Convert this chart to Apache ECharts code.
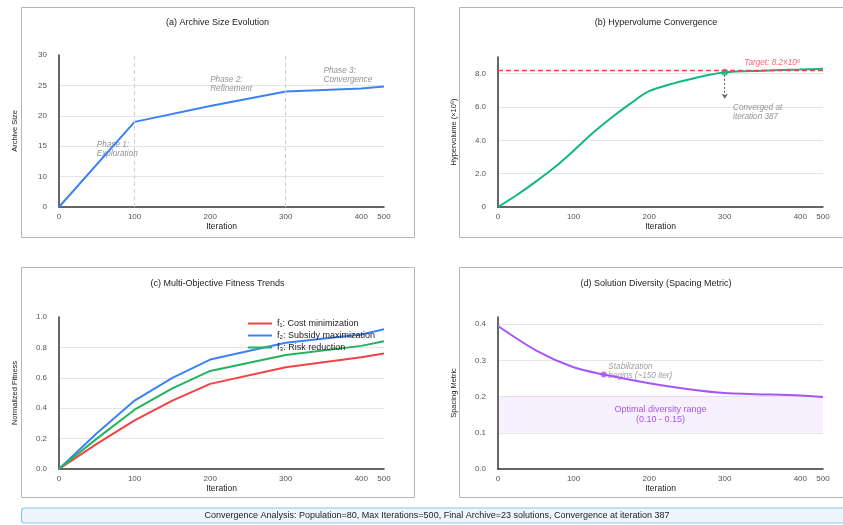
<!DOCTYPE html>
<html>
<head>
<meta charset="utf-8">
<script src="https://cdn.jsdelivr.net/npm/echarts@6/dist/echarts.min.js"></script>
<style>
  html, body { margin: 0; padding: 0; background: #fff; }
  #chart { width: 843px; height: 525px; }
</style>
</head>
<body>
<div id="chart"></div>
<script>
// iteration ticks shown on every x axis (the last step 400 -> 500 is drawn compressed)
var xTicks = [0, 100, 200, 300, 400, 500];

// (a) archive size
var archiveIters = [0, 100, 200, 300, 400, 500];
var archiveSize = [0, 19, 21.6, 24, 24.5, 24.8];
var phaseBounds = [100, 300];
var phaseNotes = [
  { x: 50, y: 14.5, text: 'Phase 1:\nExploration' },
  { x: 200, y: 25.2, text: 'Phase 2:\nRefinement' },
  { x: 350, y: 26.7, text: 'Phase 3:\nConvergence' }
];

// (b) hypervolume
var hvIters = [0, 25, 50, 75, 100, 125, 150, 175, 200, 250, 300, 350, 400, 500];
var hypervolume = [0, 0.72, 1.52, 2.38, 3.38, 4.42, 5.35, 6.2, 6.95, 7.62, 8.08, 8.18, 8.25, 8.3];
var hvTarget = 8.2;
var convPoint = [300, 8.08];
var convArrowEnd = 6.5;

// (c) fitness trends
var fitIters = [0, 50, 100, 150, 200, 300, 400, 500];
var costFit = [0, 0.165, 0.32, 0.45, 0.56, 0.67, 0.735, 0.76];
var subsidyFit = [0, 0.235, 0.45, 0.6, 0.72, 0.83, 0.885, 0.92];
var riskFit = [0, 0.2, 0.39, 0.53, 0.645, 0.75, 0.81, 0.84];

// (d) spacing metric
var spIters = [0, 50, 100, 140, 200, 250, 300, 400, 500];
var spacing = [0.395, 0.328, 0.281, 0.261, 0.237, 0.221, 0.21, 0.203, 0.199];
var stabPoint = [140, 0.261];
var optimalBand = [0.1, 0.2];

// compressed tail of the iteration axis
function xPos(it) { return it <= 400 ? it : 400 + (it - 400) * 0.3; }
function xLabel(v) { return v <= 400 ? Math.round(v) : Math.round(400 + (v - 400) / 0.3); }
// archive axis: 0..10 squeezed into one step
function yPosA(v) { return v < 10 ? 5 + v * 0.5 : v; }
function yLabelA(v) { return v < 10 ? Math.round((v - 5) * 2) : v; }

var FONT = 'Liberation Sans, Arial, sans-serif';
var grids = [
  { left: 59, right: 459, top: 55, bottom: 318 },
  { left: 498, right: 20, top: 57, bottom: 318 },
  { left: 59, right: 459, top: 317, bottom: 56 },
  { left: 498, right: 20, top: 317, bottom: 56 }
];

function xAxisFor(i) {
  return {
    type: 'value', gridIndex: i, min: 0, max: xPos(500),
    name: 'Iteration', nameLocation: 'middle', nameGap: 15,
    nameTextStyle: { fontSize: 8.5, color: '#222', fontFamily: FONT },
    axisLine: { show: true, lineStyle: { color: '#333', width: 1.5 } },
    axisTick: { show: false },
    splitLine: { show: false },
    axisLabel: {
      customValues: xTicks.map(xPos), margin: 6,
      fontSize: 8, color: '#555', fontFamily: FONT,
      formatter: function (v) { return String(xLabel(v)); }
    }
  };
}
function yAxisFor(i, name, opts) {
  var ax = {
    type: 'value', gridIndex: i,
    name: name, nameLocation: 'middle', nameGap: 40,
    nameTextStyle: { fontSize: 7.5, color: '#222', fontFamily: FONT },
    axisLine: { show: true, lineStyle: { color: '#333', width: 1.5 } },
    axisTick: { show: false },
    splitLine: { show: true, showMinLine: false, showMaxLine: false, lineStyle: { color: '#e6e6e6', width: 1 } },
    axisLabel: { fontSize: 8, color: '#555', fontFamily: FONT, margin: 12 }
  };
  for (var k in opts) {
    if (k === 'axisLabel') { for (var j in opts[k]) ax.axisLabel[j] = opts[k][j]; }
    else ax[k] = opts[k];
  }
  return ax;
}

var panels = [[21, 7], [459, 7], [21, 267], [459, 267]];
var graphics = panels.map(function (p) {
  return { type: 'rect', shape: { x: p[0] + 0.5, y: p[1] + 0.5, width: 393, height: 230 },
    style: { fill: 'transparent', stroke: '#b5b5b5', lineWidth: 1 }, z: -1 };
});
graphics.push({ type: 'rect', shape: { x: 21.5, y: 508, width: 831, height: 15, r: 3 },
  style: { fill: '#eef6fd', stroke: '#8cc8ec', lineWidth: 1.2 } });
graphics.push({ type: 'text', x: 437, y: 515.5,
  style: { text: 'Convergence Analysis: Population=80, Max Iterations=500, Final Archive=23 solutions, Convergence at iteration 387',
    fill: '#222', fontSize: 9, fontFamily: FONT, align: 'center', verticalAlign: 'middle' } });

function titleAt(text, cx, y) {
  return { text: text, left: cx, top: y, textAlign: 'center',
    textStyle: { fontSize: 9, fontWeight: 'normal', color: '#222', fontFamily: FONT } };
}

function pairs(xs, ys, fy) {
  return xs.map(function (x, i) { return [xPos(x), fy ? fy(ys[i]) : ys[i]]; });
}
function lineSeries(name, xi, xs, ys, color, smooth, fy) {
  return { name: name, type: 'line', xAxisIndex: xi, yAxisIndex: xi, data: pairs(xs, ys, fy),
    symbol: 'none', smooth: smooth,
    lineStyle: { color: color, width: 2 }, itemStyle: { color: color }, z: 3 };
}
function noteStyle(color) {
  return { show: true, position: 'right', distance: 0, fontStyle: 'italic', fontSize: 8.2,
    lineHeight: 9, color: color, fontFamily: FONT };
}

var seriesA = lineSeries('archive', 0, archiveIters, archiveSize, '#3b82f6', false, yPosA);
seriesA.markLine = { silent: true, symbol: 'none', label: { show: false },
  lineStyle: { type: [4, 3], color: '#cfcfcf', width: 1 },
  data: phaseBounds.map(function (v) { return { xAxis: xPos(v) }; }) };

var seriesB = lineSeries('hv', 1, hvIters, hypervolume, '#10b981', 0.3);
seriesB.markLine = { silent: true, symbol: 'none', label: { show: false },
  data: [
    { yAxis: hvTarget, lineStyle: { type: [5, 3], color: '#ef4444', width: 1.3 } },
    [{ coord: [xPos(convPoint[0]), convPoint[1] - 0.15], symbol: 'none' },
     { coord: [xPos(convPoint[0]), convArrowEnd], symbol: 'arrow', symbolSize: 5,
       lineStyle: { type: [2, 2], color: '#666', width: 1 } }]
  ] };

var seriesD = lineSeries('spacing', 3, spIters, spacing, '#a855f7', 0.3);
seriesD.markArea = { silent: true, itemStyle: { color: 'rgba(168,85,247,0.09)' },
  label: { show: true, position: 'inside', formatter: 'Optimal diversity range\n(0.10 - 0.15)',
    color: '#a855f7', fontSize: 9, lineHeight: 10, fontFamily: FONT },
  data: [[{ yAxis: optimalBand[0] }, { yAxis: optimalBand[1] }]] };

var option = {
  animation: false,
  textStyle: { fontFamily: FONT },
  title: [
    titleAt('(a) Archive Size Evolution', 212.5, 13),
    titleAt('(b) Hypervolume Convergence', 651, 13),
    titleAt('(c) Multi-Objective Fitness Trends', 212.5, 274),
    titleAt('(d) Solution Diversity (Spacing Metric)', 651, 274)
  ],
  graphic: { elements: graphics },
  legend: {
    data: ['f\u2081: Cost minimization', 'f\u2082: Subsidy maximization', 'f\u2083: Risk reduction'],
    orient: 'vertical', left: 243, top: 314, icon: 'rect', itemWidth: 24, itemHeight: 2, itemGap: 3,
    textStyle: { fontSize: 9, color: '#222', fontFamily: FONT }
  },
  grid: grids,
  xAxis: [xAxisFor(0), xAxisFor(1), xAxisFor(2), xAxisFor(3)],
  yAxis: [
    yAxisFor(0, 'Archive Size', { min: 5, max: 30, interval: 5,
      axisLabel: { formatter: function (v) { return String(yLabelA(v)); } } }),
    yAxisFor(1, 'Hypervolume (\u00d710\u2076)', { min: 0, max: 9, interval: 2,
      axisLabel: { showMaxLabel: false, formatter: function (v) { return v === 0 ? '0' : v.toFixed(1); } } }),
    yAxisFor(2, 'Normalized Fitness', { min: 0, max: 1, interval: 0.2,
      axisLabel: { formatter: function (v) { return v.toFixed(1); } } }),
    yAxisFor(3, 'Spacing Metric', { min: 0, max: 0.42, interval: 0.1,
      axisLabel: { showMaxLabel: false, formatter: function (v) { return v.toFixed(1); } } })
  ],
  series: [
    seriesA,
    { type: 'scatter', xAxisIndex: 0, yAxisIndex: 0, symbolSize: 0, silent: true,
      data: phaseNotes.map(function (p) { return { value: [xPos(p.x), yPosA(p.y)], label: { formatter: p.text } }; }),
      label: noteStyle('#777') },
    seriesB,
    { type: 'scatter', xAxisIndex: 1, yAxisIndex: 1, symbolSize: 7, z: 4,
      itemStyle: { color: '#10b981' }, data: [[xPos(convPoint[0]), convPoint[1]]] },
    { type: 'scatter', xAxisIndex: 1, yAxisIndex: 1, symbolSize: 0, silent: true,
      data: [
        { value: [xPos(311), 5.7], label: { formatter: 'Converged at\niteration 387', color: '#777' } },
        { value: [xPos(400), 8.66], label: { formatter: 'Target: 8.2\u00d710\u2076', position: 'left', color: '#ef4444' } }
      ],
      label: noteStyle('#777') },
    lineSeries('f\u2081: Cost minimization', 2, fitIters, costFit, '#ef4444', false),
    lineSeries('f\u2082: Subsidy maximization', 2, fitIters, subsidyFit, '#3b82f6', false),
    lineSeries('f\u2083: Risk reduction', 2, fitIters, riskFit, '#22b35e', false),
    seriesD,
    { type: 'scatter', xAxisIndex: 3, yAxisIndex: 3, symbolSize: 6, z: 4,
      itemStyle: { color: '#a855f7' }, data: [[xPos(stabPoint[0]), stabPoint[1]]] },
    { type: 'scatter', xAxisIndex: 3, yAxisIndex: 3, symbolSize: 0, silent: true,
      data: [{ value: [xPos(146), 0.27], label: { formatter: 'Stabilization\nbegins (~150 iter)' } }],
      label: noteStyle('#888') }
  ]
};

var chart = echarts.init(document.getElementById('chart'));
chart.setOption(option);
</script>
</body>
</html>
